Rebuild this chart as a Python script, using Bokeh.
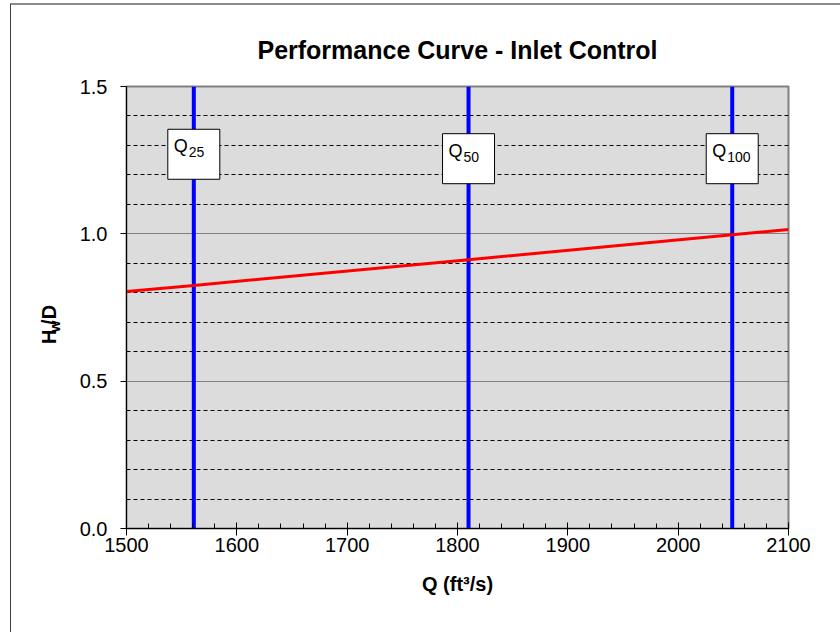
import math
from bokeh.plotting import figure
from bokeh.layouts import row
from bokeh.models import Span, SingleIntervalTicker, Range1d, ColumnDataSource, NumeralTickFormatter
from bokeh.core.properties import value
from bokeh.embed import file_html
from bokeh.resources import INLINE

# ---- data ----
title_text = "Performance Curve - Inlet Control"
x_label = "Q (ft\u00b3/s)"
y_label_parts = ["H", "w", "/D"]
curve_q = [1500, 1561, 1810, 2049, 2100]
curve_hwd = [0.804, 0.825, 0.912, 0.997, 1.015]
design_q = [1561, 1810, 2049]
design_names = ["25", "50", "100"]
design_label_y = [1.27, 1.255, 1.255]

FONT = "Liberation Sans"
H = 627
LEFT_W = 64

# ---- side panel for the rotated y-axis title (with subscript) ----
lab = figure(width=LEFT_W, height=H, output_backend="svg", toolbar_location=None,
             x_range=Range1d(0, LEFT_W), y_range=Range1d(0, H),
             x_axis_location=None, y_axis_location=None,
             min_border=0)
lab.outline_line_color = None
lab.background_fill_color = "white"
lab.border_fill_color = "white"
lab.xgrid.grid_line_color = None
lab.ygrid.grid_line_color = None

# piece centres in panel pixels (x from left, y from top)
piece_x = [37, 43, 37]
piece_y = [355, 340.5, 324]
piece_size = ["20px", "15px", "20px"]
for txt, px, py, fs in zip(y_label_parts, piece_x, piece_y, piece_size):
    lab.text(x=[px], y=[H - py], text=[txt], angle=math.pi / 2,
             text_font=value(FONT), text_font_size=fs, text_font_style="bold",
             text_color="black", text_align="center", text_baseline="middle")

# ---- main chart ----
p = figure(width=829 - LEFT_W, height=H, output_backend="svg", toolbar_location=None,
           x_range=Range1d(1500, 2100), y_range=Range1d(0, 1.5),
           min_border_left=126 - 11 - LEFT_W, min_border_top=81,
           min_border_right=52, min_border_bottom=104)

p.background_fill_color = "#dcdcdc"
p.border_fill_color = "white"
p.outline_line_color = "#808080"
p.outline_line_width = 2

p.title.text = title_text
p.title.align = "center"
p.title.text_font = FONT
p.title.text_font_size = "25px"
p.title.text_font_style = "bold"
p.title.text_color = "black"
p.title.standoff = 46

p.xaxis.ticker = SingleIntervalTicker(interval=100, num_minor_ticks=5)
p.yaxis.ticker = SingleIntervalTicker(interval=0.5, num_minor_ticks=5)
p.yaxis.formatter = NumeralTickFormatter(format="0.0")
p.xaxis.formatter = NumeralTickFormatter(format="0")

for ax in (p.xaxis[0], p.yaxis[0]):
    ax.axis_line_color = "black"
    ax.axis_line_width = 1
    ax.major_tick_line_color = "black"
    ax.minor_tick_line_color = "black"
    ax.major_label_text_font = FONT
    ax.major_label_text_font_size = "20px"
    ax.major_label_text_color = "black"
    ax.axis_label_text_font = FONT
    ax.axis_label_text_font_size = "20px"
    ax.axis_label_text_font_style = "bold"
    ax.axis_label_text_color = "black"

p.xaxis.major_tick_in = 6
p.xaxis.major_tick_out = 7
p.xaxis.minor_tick_in = 5
p.xaxis.minor_tick_out = 0
p.xaxis.major_label_standoff = 2
p.xaxis.axis_label = x_label
p.xaxis.axis_label_standoff = 18

p.yaxis.major_tick_in = 0
p.yaxis.major_tick_out = 6
p.yaxis.minor_tick_line_color = None
p.yaxis.major_label_standoff = 13

p.xgrid.grid_line_color = None
p.ygrid.grid_line_color = "#808080"
p.ygrid.grid_line_width = 1
p.ygrid.minor_grid_line_color = "black"
p.ygrid.minor_grid_line_dash = "4 3"
p.ygrid.minor_grid_line_width = 1

# design discharge lines (beneath the label boxes)
for q in design_q:
    p.add_layout(Span(location=q, dimension="height", line_color="#0000ff",
                      line_width=4, level="underlay"))

# performance curve
p.line(curve_q, curve_hwd, line_color="#ff0000", line_width=3)

# label boxes
src = ColumnDataSource(dict(x=design_q, y=design_label_y, sub=design_names,
                            q=["Q"] * len(design_q)))
p.rect(x="x", y="y", width=52, height=50, width_units="screen", height_units="screen",
       source=src, fill_color="white", line_color="black", line_width=1)
p.text(x="x", y="y", text="q", source=src, x_offset=-20, y_offset=-8,
       text_font=value(FONT), text_font_size="18px", text_color="black",
       text_align="left", text_baseline="alphabetic")
p.text(x="x", y="y", text="sub", source=src, x_offset=-5, y_offset=-2,
       text_font=value(FONT), text_font_size="14px", text_color="black",
       text_align="left", text_baseline="alphabetic")

layout = row(lab, p)
layout.styles = {"margin-left": "10px", "margin-top": "3px",
                 "border-left": "1px solid #404040", "border-top": "2px solid #8c8c8c"}

open("out.html", "w").write(file_html(layout, INLINE))
